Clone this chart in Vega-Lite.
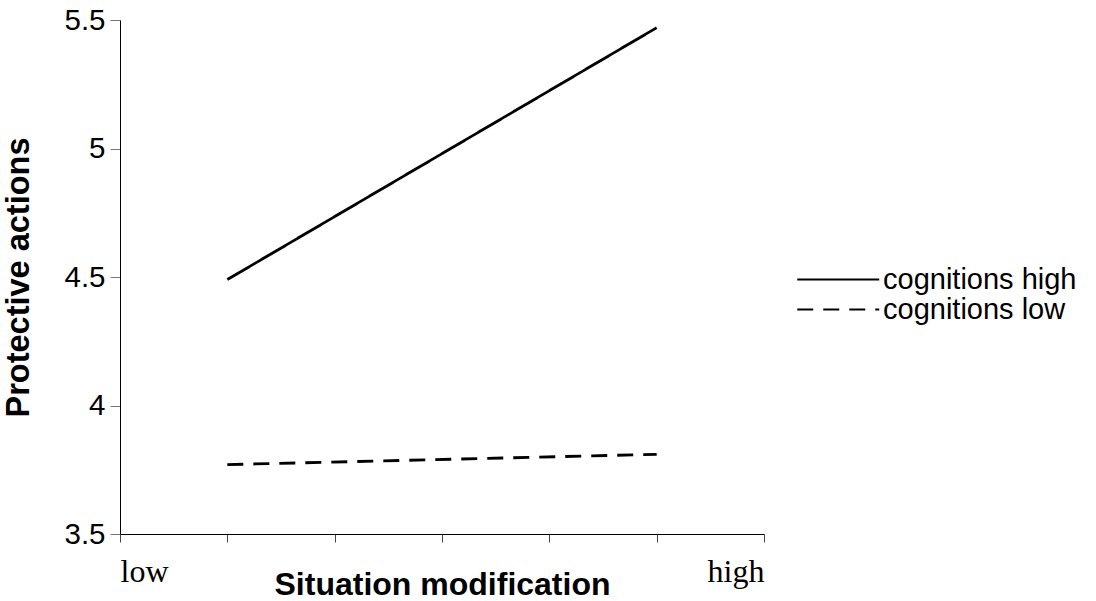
{
  "$schema": "https://vega.github.io/schema/vega-lite/v6.json",
  "autosize": "none",
  "padding": {"left": 120, "top": 20, "right": 332, "bottom": 67},
  "width": 644,
  "height": 514,
  "background": "white",
  "config": {"view": {"stroke": null}, "font": "Liberation Sans"},
  "data": {"values": [
    {"x": 1, "y": 4.49, "series": "cognitions high"},
    {"x": 5, "y": 5.47, "series": "cognitions high"},
    {"x": 1, "y": 3.77, "series": "cognitions low"},
    {"x": 5, "y": 3.81, "series": "cognitions low"}
  ]},
  "mark": {"type": "line", "color": "black", "strokeWidth": 2.8},
  "encoding": {
    "x": {"field": "x", "type": "quantitative",
      "scale": {"domain": [0, 6], "nice": false, "zero": false},
      "axis": {"title": "Situation modification", "values": [0, 1, 2, 3, 4, 5, 6],
        "labelExpr": "datum.value == 0 ? 'low' : (datum.value == 6 ? 'high' : '')",
        "labelFont": "Liberation Serif", "labelFontSize": 32, "labelColor": "black",
        "labelAlign": {"expr": "datum.value == 0 ? 'left' : 'right'"},
        "labelDx": 4,
        "labelPadding": 14, "labelOverlap": false,
        "tickSize": 8, "tickColor": "#444", "domainColor": "black", "grid": false,
        "titleFont": "Liberation Sans", "titleFontSize": 32, "titleFontWeight": "bold",
        "titleColor": "black", "titlePadding": -18}},
    "y": {"field": "y", "type": "quantitative",
      "scale": {"domain": [3.5, 5.5], "nice": false, "zero": false},
      "axis": {"title": "Protective actions", "values": [3.5, 4, 4.5, 5, 5.5], "format": ".1~f",
        "labelFont": "Liberation Sans", "labelFontSize": 29.5, "labelColor": "black",
        "labelPadding": 5,
        "tickSize": 10, "tickColor": "#777", "domainColor": "black", "grid": false,
        "titleFont": "Liberation Sans", "titleFontSize": 32.5, "titleFontWeight": "bold",
        "titleColor": "black", "titlePadding": 28}},
    "strokeDash": {"field": "series", "type": "nominal",
      "scale": {"domain": ["cognitions high", "cognitions low"], "range": [[1, 0], [16, 10]]},
      "legend": {"title": null, "orient": "none", "legendX": 673, "legendY": 245,
        "symbolType": "M-1,0H7", "symbolSize": 420, "symbolStrokeColor": "black",
        "symbolStrokeWidth": 2, "labelFontSize": 29, "labelColor": "black",
        "labelFont": "Liberation Sans", "labelOffset": 61, "labelLimit": 0, "rowPadding": -13}}
  }
}
